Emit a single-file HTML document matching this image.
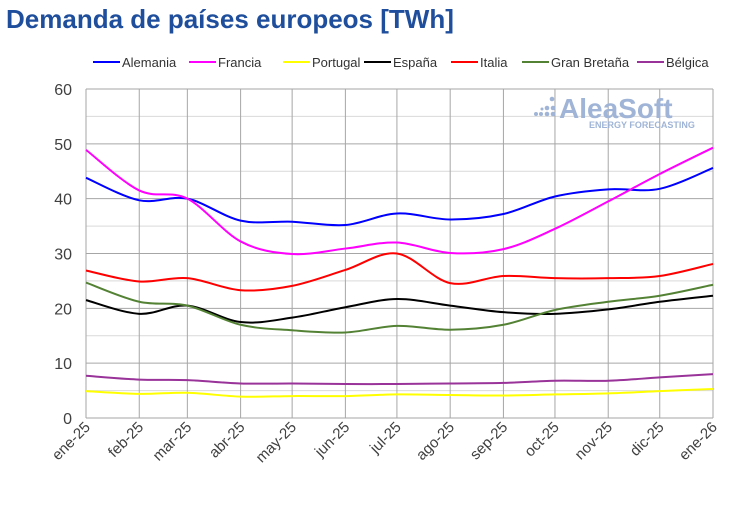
<!DOCTYPE html>
<html><head><meta charset="utf-8"><style>
body{margin:0;background:#fff;width:730px;height:506px;overflow:hidden;font-family:"Liberation Sans",sans-serif}
</style></head><body>
<svg id="s" width="730" height="506" xmlns="http://www.w3.org/2000/svg" font-family="Liberation Sans, sans-serif">
<text x="6" y="28" font-size="26" font-weight="bold" fill="#1f4f9c">Demanda de países europeos [TWh]</text>
<g id="grid"></g>
<g font-family="Liberation Sans, sans-serif" fill="#9fb4d6">
<circle cx="536" cy="114" r="2" /><circle cx="541" cy="114" r="2"/><circle cx="547" cy="114" r="2.3"/><circle cx="547" cy="108" r="2.3"/><circle cx="553" cy="114" r="2.3"/><circle cx="553" cy="108" r="2.3"/><circle cx="552" cy="99" r="2.3"/><circle cx="542" cy="109" r="1.5"/>
<text x="559" y="118" font-size="28" font-weight="bold">AleaSoft</text>
<text x="589" y="128" font-size="9" font-weight="bold">ENERGY FORECASTING</text>
</g>
<g id="lines"></g>
<g id="legend" font-size="13" fill="#333"></g>
</svg>
<script>
const NS="http://www.w3.org/2000/svg";
function el(p,t,a,txt){const e=document.createElementNS(NS,t);for(const k in a)e.setAttribute(k,a[k]);if(txt!=null)e.textContent=txt;p.appendChild(e);return e;}
const x0=86,x1=713,y0=418,yT=89;
const days=[0,31,59,90,120,151,181,212,243,273,304,334,365];
const X=i=>x0+days[i]/365*(x1-x0);
const Y=v=>y0-v/60*(y0-yT);
const g=document.getElementById('grid');
for(let v=5;v<=60;v+=5){el(g,'line',{x1:x0,x2:x1,y1:Y(v),y2:Y(v),stroke:v%10?'#d9d9d9':'#a6a6a6','stroke-width':1});}
for(let i=0;i<=12;i++){el(g,'line',{x1:X(i),x2:X(i),y1:yT,y2:y0,stroke:'#a6a6a6','stroke-width':1});}
el(g,'line',{x1:x0,x2:x1,y1:y0,y2:y0,stroke:'#a6a6a6','stroke-width':1});
for(let v=0;v<=60;v+=10)el(g,'text',{x:72,y:Y(v)+6,'font-size':16,fill:'#404040','text-anchor':'end'},v);
const mon=['ene-25','feb-25','mar-25','abr-25','may-25','jun-25','jul-25','ago-25','sep-25','oct-25','nov-25','dic-25','ene-26'];
mon.forEach((m,i)=>el(g,'text',{x:0,y:0,'font-size':15,fill:'#404040','text-anchor':'end',transform:`translate(${X(i)+5},${y0+10}) rotate(-45)`},m));
const S=[
['Alemania','#0000ff',[43.8,39.7,40.0,36.0,35.8,35.2,37.3,36.2,37.2,40.4,41.7,41.8,45.6]],
['Francia','#ff00ff',[48.9,41.5,40.0,32.2,29.9,30.9,32.0,30.1,30.8,34.5,39.5,44.5,49.3]],
['Portugal','#ffff00',[4.9,4.4,4.6,3.9,4.0,4.0,4.3,4.2,4.1,4.3,4.5,4.9,5.3]],
['España','#000000',[21.5,19.0,20.5,17.5,18.3,20.2,21.7,20.5,19.3,19.0,19.8,21.2,22.3]],
['Italia','#ff0000',[26.9,24.9,25.5,23.3,24.1,27.0,30.0,24.6,25.9,25.5,25.5,25.9,28.1]],
['Gran Bretaña','#548235',[24.7,21.2,20.5,17.0,16.0,15.6,16.8,16.1,17.0,19.7,21.2,22.3,24.3]],
['Bélgica','#993399',[7.7,7.0,6.9,6.3,6.3,6.2,6.2,6.3,6.4,6.8,6.8,7.4,8.0]]];
const L=document.getElementById('lines');
S.forEach(([n,c,d])=>{const P=d.map((v,i)=>[X(i),Y(v)]);let s=`M${P[0][0]},${P[0][1]}`;
for(let i=0;i<P.length-1;i++){const p0=P[Math.max(0,i-1)],p1=P[i],p2=P[i+1],p3=P[Math.min(P.length-1,i+2)];
const t=1/6;s+=` C${p1[0]+(p2[0]-p0[0])*t},${p1[1]+(p2[1]-p0[1])*t} ${p2[0]-(p3[0]-p1[0])*t},${p2[1]-(p3[1]-p1[1])*t} ${p2[0]},${p2[1]}`;}
el(L,'path',{d:s,fill:'none',stroke:c,'stroke-width':2});});
const lg=document.getElementById('legend');
const lx=[93,189,283,364,451,522,637];
S.forEach(([n,c],i)=>{el(lg,'line',{x1:lx[i],x2:lx[i]+27,y1:62,y2:62,stroke:c,'stroke-width':2});el(lg,'text',{x:lx[i]+29,y:67},n);});
</script>
</body></html>
